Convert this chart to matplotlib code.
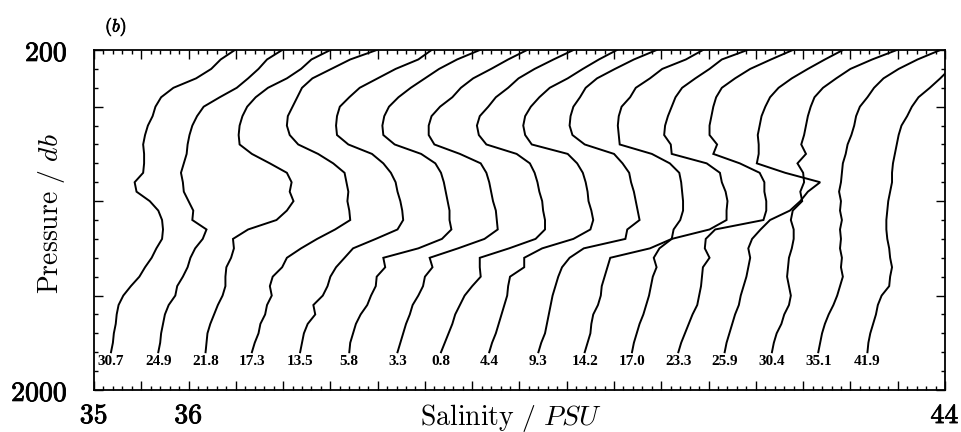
import numpy as np
import matplotlib.pyplot as plt
import matplotlib.patheffects as pe
from matplotlib.ticker import MultipleLocator, FixedLocator, FuncFormatter

plt.rcParams['mathtext.fontset'] = 'cm'

# pressure levels (db) shared by every cast
pressure = [200, 250, 300, 350, 400, 450, 500, 550, 600, 650, 700,
            750, 800, 850, 900, 950, 1000, 1050, 1100, 1150, 1200, 1250,
            1300, 1350, 1400, 1450, 1500, 1550, 1600, 1650, 1700, 1750, 1800]

# distance of each cast from the lens centre (km), left to right
distance_km = ["30.7", "24.9", "21.8", "17.3", "13.5", "5.8", "3.3", "0.8",
               "4.4", "9.3", "14.2", "17.0", "23.3", "25.9", "30.4", "35.1", "41.9"]

# salinity (PSU) at each pressure level, before the 0.5 PSU stacking offset
s_30_7 = [36.49, 36.34, 36.24, 36.08, 35.84, 35.71, 35.65, 35.62, 35.57, 35.54, 35.52,
          35.53, 35.53, 35.52, 35.43, 35.45, 35.59, 35.68, 35.72, 35.73, 35.72, 35.66,
          35.61, 35.54, 35.48, 35.39, 35.31, 35.26, 35.24, 35.23, 35.21, 35.20, 35.18]
s_24_9 = [36.49, 36.33, 36.24, 36.13, 36.01, 35.83, 35.66, 35.59, 35.54, 35.51, 35.49,
          35.48, 35.45, 35.42, 35.44, 35.45, 35.50, 35.55, 35.54, 35.69, 35.65, 35.57,
          35.52, 35.49, 35.44, 35.38, 35.36, 35.29, 35.25, 35.23, 35.21, 35.20, 35.18]
s_21_8 = [36.50, 36.30, 36.19, 36.04, 35.84, 35.71, 35.62, 35.57, 35.54, 35.53, 35.54,
          35.67, 35.86, 36.04, 36.09, 36.07, 36.11, 36.04, 35.93, 35.63, 35.47, 35.48,
          35.45, 35.40, 35.39, 35.39, 35.36, 35.31, 35.27, 35.23, 35.20, 35.19, 35.18]
s_17_3 = [36.49, 36.21, 36.01, 35.81, 35.70, 35.65, 35.60, 35.55, 35.54, 35.57, 35.66,
          35.87, 36.03, 36.15, 36.17, 36.19, 36.18, 36.20, 36.21, 36.05, 35.86, 35.69,
          35.54, 35.49, 35.39, 35.36, 35.38, 35.33, 35.31, 35.26, 35.24, 35.20, 35.17]
s_13_5 = [36.57, 36.43, 36.19, 36.00, 35.81, 35.70, 35.60, 35.57, 35.56, 35.57, 35.69,
          35.94, 36.06, 36.14, 36.19, 36.21, 36.24, 36.26, 36.27, 36.21, 35.98, 35.74,
          35.65, 35.56, 35.50, 35.47, 35.42, 35.32, 35.34, 35.26, 35.22, 35.20, 35.18]
s_5_8 = [36.58, 36.34, 36.15, 36.00, 35.85, 35.72, 35.62, 35.57, 35.55, 35.56, 35.68,
         35.96, 36.11, 36.17, 36.20, 36.22, 36.24, 36.26, 36.26, 36.28, 36.18, 35.93,
         35.56, 35.58, 35.49, 35.48, 35.43, 35.39, 35.32, 35.27, 35.24, 35.21, 35.20]
s_3_3 = [36.58, 36.38, 36.20, 36.01, 35.88, 35.79, 35.66, 35.57, 35.54, 35.54, 35.60,
         35.87, 36.09, 36.15, 36.18, 36.20, 36.22, 36.25, 36.26, 36.27, 36.13, 35.85,
         35.55, 35.58, 35.50, 35.48, 35.43, 35.37, 35.34, 35.30, 35.27, 35.24, 35.21]
s_0_8 = [36.57, 36.36, 36.16, 35.99, 35.88, 35.75, 35.67, 35.58, 35.55, 35.57, 35.65,
         35.97, 36.11, 36.16, 36.19, 36.21, 36.24, 36.25, 36.27, 36.27, 36.17, 35.89,
         35.58, 35.58, 35.59, 35.50, 35.42, 35.37, 35.32, 35.29, 35.25, 35.21, 35.17]
s_4_4 = [36.53, 36.34, 36.17, 36.01, 35.82, 35.71, 35.62, 35.56, 35.54, 35.56, 35.63,
         36.01, 36.11, 36.17, 36.20, 36.22, 36.23, 36.26, 36.28, 36.25, 36.07, 35.74,
         35.55, 35.55, 35.40, 35.38, 35.37, 35.34, 35.31, 35.28, 35.25, 35.21, 35.18]
s_9_3 = [36.45, 36.21, 36.01, 35.82, 35.70, 35.64, 35.57, 35.54, 35.53, 35.56, 35.69,
         36.00, 36.09, 36.16, 36.18, 36.21, 36.23, 36.25, 36.27, 36.14, 36.12, 35.68,
         35.53, 35.45, 35.41, 35.38, 35.35, 35.33, 35.31, 35.29, 35.27, 35.23, 35.20]
s_14_2 = [36.44, 36.26, 36.01, 35.88, 35.73, 35.67, 35.58, 35.55, 35.54, 35.55, 35.56,
          35.90, 36.09, 36.19, 36.21, 36.22, 36.23, 36.23, 36.20, 36.13, 36.11, 35.88,
          35.46, 35.43, 35.40, 35.37, 35.36, 35.33, 35.28, 35.26, 35.25, 35.22, 35.19]
s_17_0 = [36.41, 36.14, 36.01, 35.86, 35.72, 35.65, 35.61, 35.57, 35.54, 35.53, 35.60,
          35.61, 35.98, 36.12, 36.14, 36.18, 36.20, 36.19, 36.19, 36.01, 35.61, 35.48,
          35.42, 35.45, 35.41, 35.39, 35.37, 35.34, 35.31, 35.27, 35.24, 35.21, 35.19]
s_23_3 = [36.39, 36.16, 35.94, 35.78, 35.64, 35.58, 35.55, 35.53, 35.51, 35.51, 35.59,
          35.55, 35.83, 36.04, 36.09, 36.09, 36.11, 36.11, 36.08, 35.57, 35.47, 35.46,
          35.51, 35.44, 35.43, 35.42, 35.40, 35.38, 35.33, 35.29, 35.25, 35.21, 35.18]
s_25_9 = [36.42, 36.23, 36.05, 35.88, 35.74, 35.65, 35.60, 35.56, 35.54, 35.52, 35.53,
          35.53, 35.51, 35.81, 36.18, 36.05, 35.97, 35.86, 35.65, 35.55, 35.46, 35.42,
          35.44, 35.42, 35.40, 35.37, 35.34, 35.32, 35.28, 35.25, 35.22, 35.19, 35.17]
s_30_4 = [36.49, 36.23, 36.00, 35.85, 35.71, 35.62, 35.58, 35.55, 35.53, 35.51, 35.48,
          35.53, 35.44, 35.50, 35.51, 35.47, 35.49, 35.39, 35.37, 35.40, 35.40, 35.38,
          35.35, 35.34, 35.33, 35.35, 35.37, 35.35, 35.30, 35.27, 35.22, 35.19, 35.17]
s_35_1 = [36.45, 36.21, 36.01, 35.85, 35.75, 35.68, 35.60, 35.56, 35.54, 35.51, 35.47,
          35.45, 35.42, 35.41, 35.40, 35.38, 35.40, 35.39, 35.41, 35.39, 35.40, 35.39,
          35.41, 35.40, 35.42, 35.39, 35.36, 35.32, 35.27, 35.23, 35.20, 35.18, 35.16]
s_41_9 = [36.25, 36.15, 36.05, 35.95, 35.84, 35.72, 35.65, 35.60, 35.54, 35.51, 35.49,
          35.47, 35.45, 35.44, 35.44, 35.42, 35.40, 35.39, 35.38, 35.38, 35.39, 35.41,
          35.42, 35.44, 35.42, 35.41, 35.33, 35.29, 35.27, 35.24, 35.21, 35.19, 35.18]

profiles = [s_30_7, s_24_9, s_21_8, s_17_3, s_13_5, s_5_8, s_3_3, s_0_8, s_4_4,
            s_9_3, s_14_2, s_17_0, s_23_3, s_25_9, s_30_4, s_35_1, s_41_9]
offset_step = 0.5  # each successive cast shifted right by 0.5 PSU

fig = plt.figure(figsize=(9.62, 4.32), dpi=100)
ax = fig.add_axes([0.0977, 0.0972, 0.8846, 0.787])

for i, (name, sal) in enumerate(zip(distance_km, profiles)):
    x = np.array(sal) + offset_step * i
    ax.plot(x, pressure, color="black", lw=1.4, solid_joinstyle="miter")
    # distance tag sits just below the end of each cast
    ax.text(x[-1], 1850, name, ha="center", va="center", fontsize=11,
            family="Liberation Serif", weight="bold")

ax.set_xlim(35, 44)
ax.set_ylim(2000, 200)

ax.xaxis.set_major_locator(MultipleLocator(0.5))
ax.xaxis.set_minor_locator(MultipleLocator(0.1))
ax.xaxis.set_major_formatter(FuncFormatter(
    lambda v, pos: r"$\mathbf{%d}$" % round(v) if round(v, 3) in (35, 36, 44) else ""))

ax.yaxis.set_major_locator(FixedLocator([200, 500, 1000, 1500, 2000]))
ax.yaxis.set_minor_locator(MultipleLocator(100))
ax.yaxis.set_major_formatter(FuncFormatter(
    lambda v, pos: r"$\mathbf{%d}$" % round(v) if round(v) in (200, 2000) else ""))

ax.tick_params(which="both", direction="in", top=True, right=True, width=1.0)
ax.tick_params(which="major", length=6.5, labelsize=20)
ax.tick_params(axis="y", which="major", pad=19)
ax.tick_params(axis="x", which="major", pad=8)
ax.tick_params(which="minor", length=3)
for sp in ax.spines.values():
    sp.set_linewidth(1.3)

ax.set_xlabel(r"$\mathrm{Salinity\ /\ }PSU$", fontsize=20)
ax.xaxis.set_label_coords(0.49, -0.035)
ax.xaxis.label.set_va("top")
ax.set_ylabel(r"$\mathrm{Pressure\ /\ }db$", fontsize=20)
ax.yaxis.set_label_coords(-0.05, 0.52)
ax.yaxis.label.set_va("center")

panel = fig.text(116 / 962, 1 - 27 / 432, r"$(b)$", fontsize=13, ha="center", va="center")
panel.set_path_effects([pe.withStroke(linewidth=0.5, foreground="black")])

# heavier numerals on the axis ends
fig.canvas.draw()
for lbl in ax.get_xticklabels() + ax.get_yticklabels():
    lbl.set_path_effects([pe.withStroke(linewidth=0.6, foreground="black")])

fig.savefig("out.png", dpi=100)
